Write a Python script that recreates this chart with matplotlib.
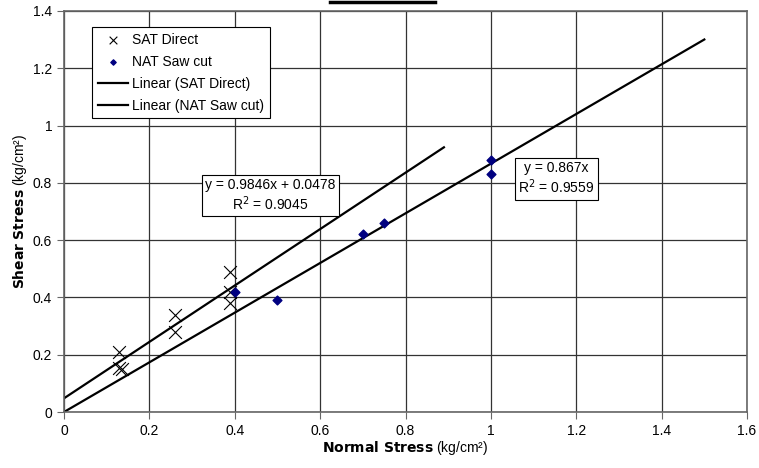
import matplotlib.pyplot as plt
import numpy as np
from matplotlib.lines import Line2D

plt.rcParams['font.family'] = ['Liberation Sans', 'DejaVu Sans']

# SAT Direct shear test points
sat_x = np.array([0.13, 0.13, 0.135, 0.26, 0.26, 0.39, 0.39, 0.39])
sat_y = np.array([0.21, 0.155, 0.15, 0.34, 0.28, 0.49, 0.42, 0.38])
# NAT Saw cut points
nat_x = np.array([0.4, 0.5, 0.7, 0.75, 1.0, 1.0])
nat_y = np.array([0.42, 0.39, 0.62, 0.66, 0.88, 0.83])

# trendline fits and extents
sat_slope, sat_icpt, sat_r2 = 0.9846, 0.0478, 0.9045
nat_slope, nat_r2 = 0.867, 0.9559
sat_xmax, nat_xmax = 0.89, 1.5

fig = plt.figure(figsize=(7.59, 4.68), dpi=100)
ax = fig.add_axes([64/759, 1 - 412/468, (747-64)/759, (412-11)/468])

ax.scatter(sat_x, sat_y, marker='x', s=85, color='black', linewidths=0.8,
           label='SAT Direct', zorder=3)
ax.scatter(nat_x, nat_y, marker='D', s=20, color='#000080',
           label='NAT Saw cut', zorder=3)

xs = np.array([0, sat_xmax])
ax.plot(xs, sat_slope * xs + sat_icpt, color='black', lw=1.6,
        label='Linear (SAT Direct)', zorder=2)
xn = np.array([0, nat_xmax])
ax.plot(xn, nat_slope * xn, color='black', lw=1.6,
        label='Linear (NAT Saw cut)', zorder=2)

ax.set_xlim(0, 1.6)
ax.set_ylim(0, 1.4)
ax.set_xticks(np.arange(0, 1.61, 0.2))
ax.set_yticks(np.arange(0, 1.41, 0.2))
ax.set_xticklabels(['0', '0.2', '0.4', '0.6', '0.8', '1', '1.2', '1.4', '1.6'])
ax.set_yticklabels(['0', '0.2', '0.4', '0.6', '0.8', '1', '1.2', '1.4'])
ax.grid(True, color='#333333', lw=0.9)
ax.set_axisbelow(True)
for s in ax.spines.values():
    s.set_color('#666666')
    s.set_linewidth(1.2)
ax.tick_params(direction='out', length=5, color='#666666', labelsize=10)

ax.set_xlabel(r'$\bf{Normal\ Stress}$ (kg/cm²)', fontsize=10, labelpad=1)
ax.set_ylabel(r'$\bf{Shear\ Stress}$ (kg/cm²)', fontsize=10, labelpad=3)

bbox = dict(boxstyle='square,pad=0.25', fc='white', ec='black', lw=0.8)
ax.text(0.4836, 0.756, 'y = 0.9846x + 0.0478\nR$^2$ = 0.9045', ha='center', va='center',
        fontsize=10, bbox=bbox, linespacing=1.15, zorder=4)
ax.text(1.153, 0.815, 'y = 0.867x\nR$^2$ = 0.9559', ha='center', va='center',
        fontsize=10, bbox=bbox, linespacing=1.15, zorder=4)

leg = ax.legend(loc='upper left', bbox_to_anchor=(0.041, 0.96), fontsize=10,
                frameon=True, fancybox=False, edgecolor='black', framealpha=1,
                handlelength=2.2, handletextpad=0.3, borderpad=0.4,
                labelspacing=0.58, borderaxespad=0, markerscale=0.6)
leg.get_frame().set_linewidth(0.8)

# clipped title underline at top edge
fig.add_artist(Line2D([330/759, 435/759], [1 - 1.5/468] * 2, color='black', lw=2.5))

fig.savefig('out.png', dpi=100)
